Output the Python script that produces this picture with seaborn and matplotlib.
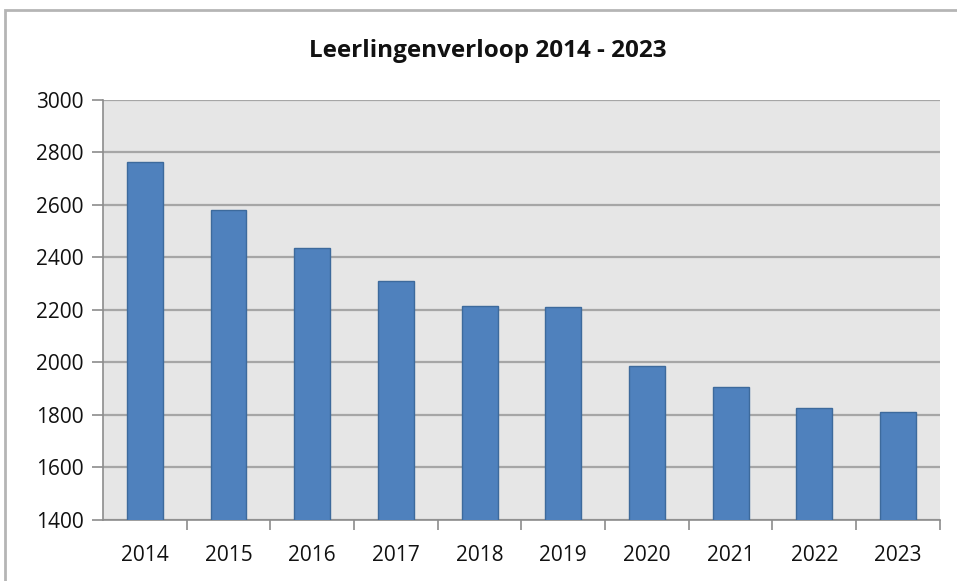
import matplotlib
matplotlib.use("Agg")
import matplotlib.pyplot as plt
import seaborn as sns
from matplotlib.patches import Rectangle

years = ["2014", "2015", "2016", "2017", "2018", "2019", "2020", "2021", "2022", "2023"]
students = [2765, 2582, 2437, 2310, 2217, 2213, 1985, 1906, 1825, 1812]
y_ticks = [1400, 1600, 1800, 2000, 2200, 2400, 2600, 2800, 3000]

sns.set_style("white")
plt.rcParams["font.family"] = ["Open Sans", "DejaVu Sans"]

fig = plt.figure(figsize=(9.57, 5.81), dpi=100)
ax = fig.add_axes([0.1076, 0.105, 0.8744, 0.723])

sns.barplot(x=years, y=students, color="#4f81bd", saturation=1, width=0.43,
            edgecolor="#3d6a9c", linewidth=1, ax=ax, zorder=3)

ax.set_facecolor("#e6e6e6")
ax.set_ylim(1400, 3000)
ax.set_yticks(y_ticks)
ax.set_xlim(-0.5, len(years) - 0.5)
ax.yaxis.grid(True, color="#a6a6a6", linewidth=1.6, zorder=0)
ax.set_axisbelow(True)

for side in ["top", "right"]:
    ax.spines[side].set_visible(False)
for side in ["left", "bottom"]:
    ax.spines[side].set_color("#8c8c8c")
    ax.spines[side].set_linewidth(1.2)

ax.tick_params(axis="y", length=8, width=1.2, color="#8c8c8c", labelsize=15, pad=6,
               left=True, labelcolor="#111111")
ax.tick_params(axis="x", which="major", length=0, labelsize=15, pad=18, labelcolor="#111111")
ax.set_xticks([i + 0.5 for i in range(len(years))], minor=True)
ax.tick_params(axis="x", which="minor", length=7, width=1.2, color="#8c8c8c", bottom=True)

fig.text(0.51, 0.913, "Leerlingenverloop 2014 - 2023", fontsize=17.5, fontweight="bold",
         ha="center", va="center", color="#111111")

fig.patches.append(Rectangle((0.005, -0.05), 1.2, 1.033, transform=fig.transFigure,
                             fill=False, edgecolor="#b5b5b5", linewidth=2))

fig.savefig("out.png", dpi=100)
